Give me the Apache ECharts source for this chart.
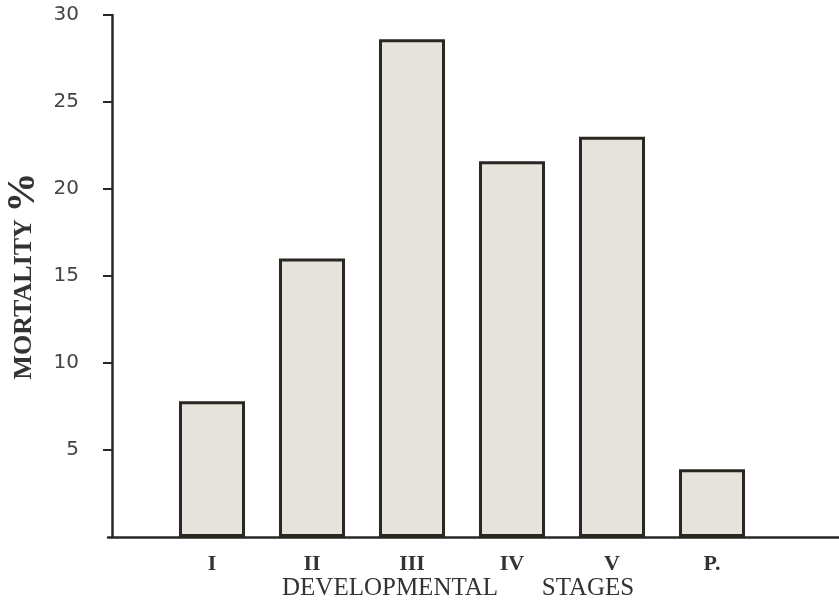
<!DOCTYPE html>
<html>
<head>
<meta charset="utf-8">
<script src="https://cdn.jsdelivr.net/npm/echarts@6/dist/echarts.min.js"></script>
<style>
html,body{margin:0;padding:0;background:#fff;}
#chart{width:839px;height:604px;}
</style>
</head>
<body>
<div id="chart"></div>
<script>
// Data
const categories = ['I', 'II', 'III', 'IV', 'V', 'P.'];
const stagePos = [1, 2, 3, 4, 5, 6];
const mortality = [7.8, 16.0, 28.6, 21.6, 23.0, 3.9];
const yTicks = [5, 10, 15, 20, 25, 30];

const ink = '#2a2622';
const yName = 'MORTALITY';
const xName = 'DEVELOPMENTAL' + '\u00A0'.repeat(7) + 'STAGES';

const chart = echarts.init(document.getElementById('chart'));
chart.setOption({
  backgroundColor: '#ffffff',
  animation: false,
  title: {
    text: xName,
    left: 282,
    top: 576,
    padding: 0,
    textStyle: { fontFamily: 'Liberation Serif', fontSize: 25, fontWeight: 'normal', color: '#333' }
  },
  grid: { left: 108, right: 0, top: 15, bottom: 67, containLabel: false, outerBoundsMode: 'none' },
  xAxis: {
    type: 'value',
    min: -0.04,
    max: 7.27,
    splitLine: { show: false },
    axisTick: { show: false },
    axisLine: { show: true, lineStyle: { color: ink, width: 2.5 } },
    axisLabel: {
      customValues: stagePos,
      margin: 16,
      fontFamily: 'Liberation Serif',
      fontWeight: 'bold',
      fontSize: 22,
      color: '#333',
      formatter: v => categories[stagePos.indexOf(v)] || ''
    }
  },
  yAxis: {
    type: 'value',
    min: 0,
    max: 30,
    interval: 5,
    splitLine: { show: false },
    axisLine: { show: true, lineStyle: { color: ink, width: 2.5 } },
    axisTick: { show: true, customValues: yTicks, length: 9, lineStyle: { color: ink, width: 2 } },
    axisLabel: {
      customValues: yTicks,
      margin: 29,
      fontFamily: 'DejaVu Sans',
      fontSize: 20,
      color: '#444'
    },
    name: '{a|' + yName + '}  {b|%}',
    nameLocation: 'middle',
    nameGap: 64,
    nameMoveOverlap: false,
    nameTextStyle: {
      rich: {
        a: { fontFamily: 'Liberation Serif', fontWeight: 'bold', fontSize: 26, color: '#333' },
        b: { fontFamily: 'Liberation Serif', fontWeight: 'bold', fontSize: 40, color: '#333' }
      }
    }
  },
  series: [{
    type: 'bar',
    barWidth: 66,
    data: mortality.map((v, i) => [stagePos[i], v]),
    itemStyle: {
      color: '#e6e3dd',
      borderColor: ink,
      borderWidth: 3
    }
  }]
});
</script>
</body>
</html>
